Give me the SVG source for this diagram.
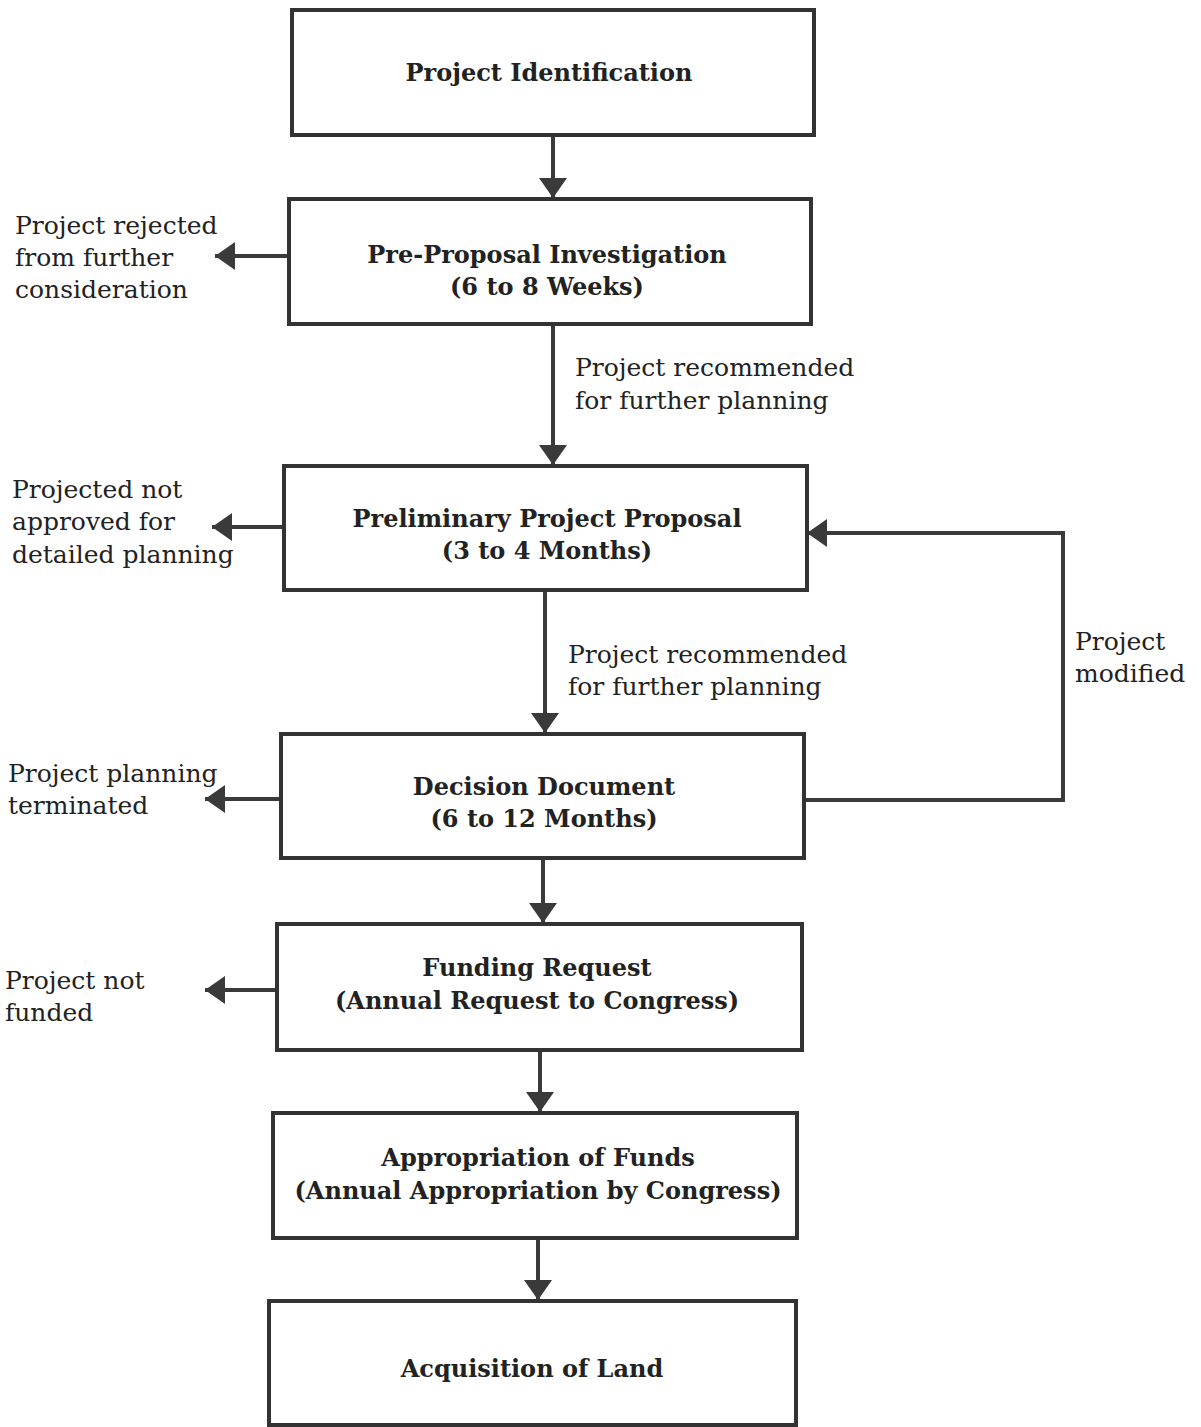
<svg xmlns="http://www.w3.org/2000/svg" width="1201" height="1427" viewBox="0 0 1201 1427">
<defs>
<marker id="ah" viewBox="0 0 20 40" refX="20" refY="20" markerWidth="20" markerHeight="40" markerUnits="userSpaceOnUse" orient="auto">
<path d="M0,6 L20,20 L0,34 Z" fill="#3a3a3a"/>
</marker>
<style>
.box{fill:#fff;stroke:#333;stroke-width:4}
.t{font-family:"DejaVu Serif","Liberation Serif",serif;font-size:24px;font-weight:bold;fill:#222;text-anchor:middle}
.l{font-family:"DejaVu Serif","Liberation Serif",serif;font-size:25px;fill:#222}
.c{fill:none;stroke:#3a3a3a;stroke-width:4}
</style>
</defs>
<rect width="1201" height="1427" fill="#fff"/>
<g id="connectors">
<path class="c" d="M553,135 V198" marker-end="url(#ah)"/>
<path class="c" d="M553,324 V465" marker-end="url(#ah)"/>
<path class="c" d="M545,590 V733" marker-end="url(#ah)"/>
<path class="c" d="M543,858 V923" marker-end="url(#ah)"/>
<path class="c" d="M540,1050 V1112" marker-end="url(#ah)"/>
<path class="c" d="M538,1238 V1300" marker-end="url(#ah)"/>
<path class="c" d="M289,256 H215" marker-end="url(#ah)"/>
<path class="c" d="M284,527 H212" marker-end="url(#ah)"/>
<path class="c" d="M281,799 H205" marker-end="url(#ah)"/>
<path class="c" d="M277,990 H205" marker-end="url(#ah)"/>
<path class="c" d="M804,800 H1063 V533 H807" marker-end="url(#ah)"/>
<text class="l" x="575" y="376">Project recommended</text>
<text class="l" x="575" y="409">for further planning</text>
<text class="l" x="568" y="663">Project recommended</text>
<text class="l" x="568" y="695">for further planning</text>
<text class="l" x="1075" y="650">Project</text>
<text class="l" x="1075" y="682">modified</text>
<text class="l" x="15" y="234">Project rejected</text>
<text class="l" x="15" y="266">from further</text>
<text class="l" x="15" y="298">consideration</text>
<text class="l" x="12" y="498">Projected not</text>
<text class="l" x="12" y="530">approved for</text>
<text class="l" x="12" y="563">detailed planning</text>
<text class="l" x="8" y="782">Project planning</text>
<text class="l" x="8" y="814">terminated</text>
<text class="l" x="5" y="989">Project not</text>
<text class="l" x="5" y="1021">funded</text>
</g>
<g id="n1"><rect class="box" x="292" y="10" width="522" height="125"/><text class="t" x="549" y="81">Project Identification</text></g>
<g id="n2"><rect class="box" x="289" y="199" width="522" height="125"/><text class="t" x="547" y="263">Pre-Proposal Investigation</text><text class="t" x="547" y="295">(6 to 8 Weeks)</text></g>
<g id="n3"><rect class="box" x="284" y="466" width="523" height="124"/><text class="t" x="547" y="527">Preliminary Project Proposal</text><text class="t" x="547" y="559">(3 to 4 Months)</text></g>
<g id="n4"><rect class="box" x="281" y="734" width="523" height="124"/><text class="t" x="544" y="795">Decision Document</text><text class="t" x="544" y="827">(6 to 12 Months)</text></g>
<g id="n5"><rect class="box" x="277" y="924" width="525" height="126"/><text class="t" x="537" y="976">Funding Request</text><text class="t" x="537" y="1009">(Annual Request to Congress)</text></g>
<g id="n6"><rect class="box" x="273" y="1113" width="524" height="125"/><text class="t" x="538" y="1166">Appropriation of Funds</text><text class="t" x="538" y="1199">(Annual Appropriation by Congress)</text></g>
<g id="n7"><rect class="box" x="269" y="1301" width="527" height="124"/><text class="t" x="532" y="1377">Acquisition of Land</text></g>
</svg>
